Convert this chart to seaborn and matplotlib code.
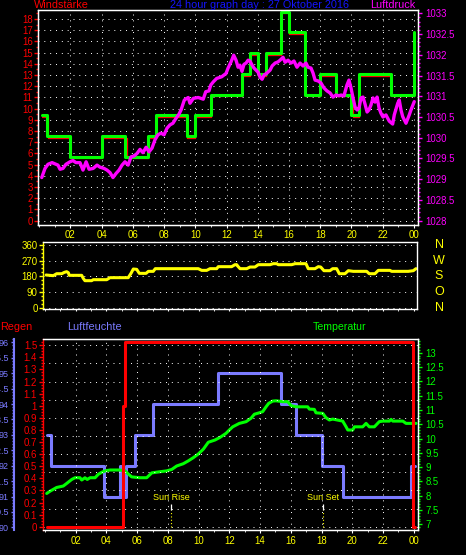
import matplotlib
matplotlib.use('Agg')
import matplotlib.pyplot as plt
import matplotlib.transforms as mtransforms
from matplotlib.ticker import MultipleLocator, FixedLocator
import numpy as np
import seaborn as sns

# ---------------- data ----------------
hour_ticks = [2, 4, 6, 8, 10, 12, 14, 16, 18, 20, 22, 24]
hour_labels = ['02', '04', '06', '08', '10', '12', '14', '16', '18', '20', '22', '00']

# wind (km/h) step series and gust
wind_t = [0.17, 0.5, 2.0, 4.0, 5.5, 7.0, 7.5, 9.5, 10.0, 11.0, 13.0, 13.5, 14.0,
          14.5, 15.5, 16.0, 17.0, 18.0, 19.0, 20.0, 20.5, 22.5, 24.0]
wind_v = [9.26, 7.41, 5.56, 7.41, 5.56, 7.41, 9.26, 7.41, 9.26, 11.11, 12.96, 14.82, 12.96,
          14.82, 18.52, 16.67, 11.11, 12.96, 11.11, 9.26, 12.96, 11.11, 16.67]
gust_t = [0.17, 0.6, 2.0, 4.0, 5.6, 7.0, 7.5, 9.5, 10.0, 11.0, 13.0, 13.5, 14.0,
          14.5, 15.5, 16.0, 17.0, 18.0, 19.0, 20.08, 20.5, 22.5, 24.0]
gust_v = wind_v

# pressure (hPa)
press_t = [0.17, 0.38, 0.57, 0.83, 1.02, 1.21, 1.34, 1.53, 1.72, 1.98,
           2.17, 2.36, 2.62, 2.81, 3.01, 3.20, 3.46, 3.71, 3.90, 4.16,
           4.35, 4.54, 4.73, 4.93, 5.12, 5.31, 5.50, 5.70, 5.89, 6.08,
           6.27, 6.46, 6.65, 6.85, 7.04, 7.23, 7.42, 7.61, 7.80, 8.00,
           8.19, 8.38, 8.57, 8.77, 8.96, 9.09,
           9.30, 9.55, 9.66, 9.88, 10.19, 10.51, 10.67, 10.88, 10.99, 11.16, 11.37, 11.69, 11.97,
           12.10, 12.29, 12.46, 12.61, 12.74, 12.86, 12.99, 13.12, 13.25, 13.38,
           13.50, 13.64, 13.76, 13.89, 14.02, 14.15, 14.28, 14.40, 14.59, 14.79,
           14.92, 15.11, 15.30, 15.43, 15.62, 15.75, 15.94, 16.13, 16.32, 16.51,
           16.71, 16.90, 17.09, 17.22, 17.41, 17.54, 17.67, 17.86, 18.05, 18.24,
           18.43, 18.63, 18.82, 19.01, 19.20, 19.33, 19.52, 19.71, 19.84, 19.97,
           20.10, 20.23, 20.36, 20.48, 20.61, 20.74, 20.87, 21.00, 21.12, 21.25,
           21.38, 21.51, 21.64, 21.77, 21.89, 22.02,
           22.21, 22.42, 22.64, 22.74, 22.96, 23.06, 23.17, 23.28, 23.49, 23.70, 23.81, 24.02]
press_v = [1029.04, 1029.26, 1029.36, 1029.40, 1029.37, 1029.34, 1029.24, 1029.26, 1029.36, 1029.42,
           1029.45, 1029.40, 1029.40, 1029.22, 1029.42, 1029.24, 1029.26, 1029.34, 1029.29, 1029.26,
           1029.22, 1029.16, 1029.04, 1029.14, 1029.22, 1029.34, 1029.42, 1029.34, 1029.54, 1029.56,
           1029.62, 1029.72, 1029.64, 1029.77, 1029.66, 1029.75, 1029.95, 1030.07, 1030.11, 1030.07,
           1030.23, 1030.31, 1030.35, 1030.47, 1030.57, 1030.67,
           1030.91, 1030.97, 1030.83, 1030.95, 1030.97, 1030.93, 1031.11, 1031.13, 1031.27, 1031.35,
           1031.43, 1031.47, 1031.55,
           1031.68, 1031.83, 1031.99, 1031.87, 1031.70, 1031.75, 1031.60, 1031.77, 1031.80, 1031.87,
           1031.85, 1031.75, 1031.68, 1031.63, 1031.58, 1031.46, 1031.41, 1031.51, 1031.56, 1031.63,
           1031.73, 1031.80, 1031.83, 1031.87, 1031.94, 1031.82, 1031.87, 1031.80, 1031.85, 1031.70,
           1031.80, 1031.73, 1031.80, 1031.70, 1031.68, 1031.56, 1031.39, 1031.37, 1031.32, 1031.20,
           1031.13, 1031.08, 1030.98, 1031.03, 1031.01, 1031.03, 1031.01, 1031.27, 1031.39, 1031.20,
           1030.96, 1030.74, 1030.67, 1030.71, 1030.96, 1030.98, 1030.81, 1030.62, 1030.67, 1030.79,
           1030.96, 1030.86, 1030.98, 1030.71, 1030.59, 1030.50,
           1030.55, 1030.40, 1030.33, 1030.55, 1030.83, 1030.91, 1030.67, 1030.51, 1030.35, 1030.55,
           1030.67, 1030.87]

# wind direction (degrees)
dir_t = [0.07, 0.54, 0.76, 1.09, 1.26, 1.41, 1.52, 1.58, 1.84, 2.39,
         2.49, 2.60, 3.04, 3.14, 4.02, 4.23, 5.42, 5.60, 5.75, 5.97,
         6.14, 6.58, 6.73, 7.05, 7.18, 9.98, 10.20, 10.53, 10.74, 11.18,
         11.28, 12.15, 12.37, 12.48, 12.58, 12.70, 13.13, 13.35, 13.67, 13.89,
         14.65, 14.86, 15.08, 15.19, 16.06, 16.28, 16.99, 17.14, 17.58, 17.79,
         17.95, 18.16, 18.55, 18.73, 18.99, 19.16, 19.53, 19.75, 20.07, 20.94,
         21.11, 21.48, 21.70, 22.46, 22.57, 23.65, 23.98, 24.15]
dir_v = [187.6, 183.8, 195, 195, 202.7, 206.5, 200.8, 185.7, 185.7, 185.7,
         168.6, 155.4, 155.4, 161, 161, 172.4, 172.4, 197, 221.7, 219.8,
         197, 197, 208.4, 208.4, 223.6, 223.6, 214, 214, 223.6, 223.6,
         235, 235, 246.3, 246.3, 235, 223.6, 223.6, 233, 233, 246.3,
         246.3, 252, 252, 246.3, 246.3, 252, 252, 223.6, 223.6, 235,
         233, 212.2, 212.2, 223.6, 223.6, 195, 195, 212.2, 208.4, 208.4,
         195, 195, 214, 214, 208.4, 208.4, 212.2, 223.6]
dir_ticks = [0, 90, 180, 270, 360]
dir_letters = ['N', 'O', 'S', 'W', 'N']

# rain (step)
rain_t = [0.11, 5.06, 5.21, 23.94, 24.11]
rain_v = [0.0, 1.0, 1.53, 0.0, 0.0]

# humidity (step)
hum_t = [0.11, 0.37, 3.86, 4.88, 4.95, 5.27, 5.86, 7.01, 11.28, 15.36, 16.34, 18.01, 19.38, 23.83, 24.11]
hum_v = [93, 92, 91, 92, 91, 92, 93, 94, 95, 94, 93, 92, 91, 92, 92]

# temperature
temp_t = [0.11, 0.33, 0.76, 1.19, 1.41, 1.74, 1.95, 2.28, 2.39, 2.60,
          2.75, 2.93, 3.26, 3.47, 3.69, 3.91, 4.23, 4.88, 5.21, 5.42,
          5.64, 6.18, 6.62, 6.95, 7.49, 7.92, 8.25, 8.57, 9.00, 9.33,
          9.65, 9.98, 10.31, 10.63, 11.07, 11.39,
          11.78, 12.00, 12.22, 12.65, 13.09, 13.41, 13.63, 13.95, 14.17, 14.39,
          14.56, 14.82, 15.04, 15.48, 15.80, 16.02, 16.34, 17.10, 17.21, 17.53,
          17.64, 18.08, 18.29, 18.51, 18.73, 19.38, 19.60, 19.71, 20.03, 20.14,
          20.68, 20.90, 21.11, 21.44, 21.76, 21.99, 22.42, 22.53, 22.64, 23.29,
          23.50, 24.15]
temp_v = [8.08, 8.16, 8.29, 8.34, 8.43, 8.57, 8.63, 8.63, 8.55, 8.63,
          8.57, 8.63, 8.63, 8.75, 8.82, 8.87, 8.90, 8.90, 8.87, 8.76,
          8.66, 8.63, 8.63, 8.80, 8.84, 8.87, 8.92, 9.04, 9.12, 9.22,
          9.33, 9.46, 9.63, 9.87, 9.95, 10.04,
          10.18, 10.30, 10.41, 10.53, 10.59, 10.71, 10.85, 10.90, 10.94, 11.11,
          11.23, 11.31, 11.32, 11.29, 11.29, 11.15, 11.11, 11.11, 11.03, 11.02,
          10.90, 10.88, 10.73, 10.65, 10.68, 10.61, 10.41, 10.30, 10.30, 10.41,
          10.41, 10.53, 10.41, 10.41, 10.59, 10.61, 10.61, 10.67, 10.61, 10.61,
          10.53, 10.53]

sunrise_h = 8.2
sunset_h = 18.12

# ---------------- style ----------------
sns.set_style('ticks')
plt.rcParams['font.family'] = ['Liberation Sans', 'DejaVu Sans']
plt.rcParams['axes.facecolor'] = 'black'
plt.rcParams['figure.facecolor'] = 'black'

RED = '#FF0000'
MAG = '#FF00FF'
GRN = '#00FF00'
YEL = '#FFFF00'
LAV = '#7B7BFF'
BLU = '#1414FF'
TICKFS = 6.9
DOT = (0, (1, 5))

W, H = 466, 555
fig = plt.figure(figsize=(W / 100, H / 100), dpi=100)


def rect(l, t, r, b):
    return [l / W, 1 - b / H, (r - l) / W, (b - t) / H]


def white_box(ax):
    ax.set_facecolor('black')
    for s in ax.spines.values():
        s.set_color('white')
        s.set_linewidth(1.0)


def fmt(v):
    s = ('%.1f' % v)
    return s[:-2] if s.endswith('.0') else s


# ================= top panel =================
ax1 = fig.add_axes(rect(38.3, 10, 418, 224.5))
white_box(ax1)
ax1.set_xlim(-0.05, 24.26)
ax1.set_ylim(-0.34, 18.81)
ax1.yaxis.set_major_locator(MultipleLocator(1))
ax1.yaxis.set_minor_locator(MultipleLocator(0.5))
ax1.xaxis.set_major_locator(FixedLocator(hour_ticks))
ax1.set_xticklabels(hour_labels)
ax1.xaxis.set_minor_locator(MultipleLocator(1))
ax1.tick_params(axis='y', which='both', colors=RED, labelsize=TICKFS, pad=1, width=1)
ax1.tick_params(axis='y', which='major', length=3)
ax1.tick_params(axis='y', which='minor', length=1.5)
ax1.tick_params(axis='x', which='both', color='white', labelcolor=YEL, labelsize=TICKFS, pad=1.5)
ax1.tick_params(axis='x', which='major', length=2.5)
ax1.tick_params(axis='x', which='minor', length=1.5)
ax1.grid(True, which='major', color='white', linestyle=DOT, linewidth=0.7)
ax1.set_axisbelow(True)

sns.lineplot(x=gust_t, y=gust_v, ax=ax1, color=RED, linewidth=0.9,
             drawstyle='steps-post', estimator=None, sort=False)
sns.lineplot(x=wind_t, y=wind_v, ax=ax1, color=GRN, linewidth=2.2,
             drawstyle='steps-post', estimator=None, sort=False)
ax1.lines[-1].set_transform(mtransforms.offset_copy(ax1.transData, fig=fig, x=0, y=1.6, units='dots'))
ax1.set_xlabel('')
ax1.set_ylabel('')

ax1r = ax1.twinx()
ax1r.set_ylim(1027.908, 1033.08)
p_ticks = list(np.arange(1028, 1033.01, 0.5))
ax1r.yaxis.set_major_locator(FixedLocator(p_ticks))
ax1r.set_yticklabels([fmt(v) for v in p_ticks])
ax1r.yaxis.set_minor_locator(MultipleLocator(0.1))
ax1r.tick_params(axis='y', which='both', colors=MAG, labelsize=TICKFS, pad=2, width=1)
ax1r.tick_params(axis='y', which='major', length=3)
ax1r.tick_params(axis='y', which='minor', length=1.5)
for s in ax1r.spines.values():
    s.set_color('white')
sns.lineplot(x=press_t, y=press_v, ax=ax1r, color=MAG, linewidth=2.4,
             estimator=None, sort=False)
ax1r.set_ylabel('')

fig.text(34 / W, 1 - 5.5 / H, 'Windstärke', color=RED, fontsize=7.8, ha='left', va='center')
fig.text(259 / W, 1 - 5.5 / H, '24 hour graph day : 27 Oktober 2016', color=BLU, fontsize=7.8,
         ha='center', va='center')
fig.text(415.5 / W, 1 - 5.5 / H, 'Luftdruck', color=MAG, fontsize=7.8, ha='right', va='center')

# ================= middle panel =================
ax2 = fig.add_axes(rect(43.3, 241.7, 416.7, 309.3))
white_box(ax2)
ax2.spines['left'].set_color(YEL)
ax2.set_xlim(-0.11, 24.2)
ax2.set_ylim(-7.4, 377)
ax2.yaxis.set_major_locator(FixedLocator(dir_ticks))
ax2.yaxis.set_minor_locator(MultipleLocator(22.5))
ax2.tick_params(axis='y', which='both', colors=YEL, labelsize=TICKFS, pad=1, width=1)
ax2.tick_params(axis='y', which='major', length=3)
ax2.tick_params(axis='y', which='minor', length=1.5)
ax2.xaxis.set_major_locator(FixedLocator(hour_ticks))
ax2.xaxis.set_minor_locator(MultipleLocator(1))
ax2.tick_params(axis='x', which='both', color='white', labelbottom=False, length=1.5)
ax2.grid(True, axis='y', which='major', color='white', linestyle=DOT, linewidth=0.7)
ax2.set_axisbelow(True)
sns.lineplot(x=dir_t, y=dir_v, ax=ax2, color=YEL, linewidth=2.2, estimator=None, sort=False)
ax2.set_xlabel('')
ax2.set_ylabel('')
tr = mtransforms.blended_transform_factory(fig.transFigure, ax2.transData)
for d, letter in zip(dir_ticks, dir_letters):
    ax2.text(439 / W, d, letter, color=YEL, fontsize=9, ha='center', va='center',
             transform=tr, clip_on=False)

# ================= bottom panel =================
ax3 = fig.add_axes(rect(42.7, 339.3, 418.3, 529.5))
white_box(ax3)
ax3.spines['left'].set_color(RED)
ax3.set_xlim(-0.15, 24.30)
ax3.set_ylim(-0.023, 1.549)
r_ticks = list(np.round(np.arange(0, 1.501, 0.1), 1))
ax3.yaxis.set_major_locator(FixedLocator(r_ticks))
ax3.set_yticklabels([fmt(v) for v in r_ticks])
ax3.yaxis.set_minor_locator(MultipleLocator(0.025))
ax3.tick_params(axis='y', which='both', colors=RED, labelsize=TICKFS, pad=1, width=1)
ax3.tick_params(axis='y', which='major', length=3)
ax3.tick_params(axis='y', which='minor', length=1.5)
ax3.xaxis.set_major_locator(FixedLocator(hour_ticks))
ax3.set_xticklabels(hour_labels)
ax3.xaxis.set_minor_locator(MultipleLocator(1))
ax3.tick_params(axis='x', which='both', color='white', labelcolor=YEL, labelsize=TICKFS, pad=2)
ax3.tick_params(axis='x', which='major', length=2.5)
ax3.tick_params(axis='x', which='minor', length=1.5)
ax3.grid(True, axis='x', which='major', color='white', linestyle=DOT, linewidth=0.7)
for g in np.arange(0, 1.51, 0.15):
    ax3.axhline(g, color='white', linestyle=DOT, linewidth=0.7, zorder=0.5)

# humidity axis (outer left)
ax3h = ax3.twinx()
ax3h.set_ylim(89.93, 96.10)
h_ticks = list(np.arange(90, 96.01, 0.5))
ax3h.yaxis.set_ticks_position('left')
ax3h.yaxis.set_label_position('left')
ax3h.spines['left'].set_position(('outward', 21))
ax3h.spines['left'].set_visible(True)
ax3h.spines['left'].set_color(LAV)
ax3h.spines['left'].set_linewidth(1.5)
ax3h.spines['right'].set_visible(False)
ax3h.spines['top'].set_visible(False)
ax3h.spines['bottom'].set_visible(False)
ax3h.yaxis.set_major_locator(FixedLocator(h_ticks))
ax3h.set_yticklabels([fmt(v) for v in h_ticks])
ax3h.yaxis.set_minor_locator(MultipleLocator(0.1))
ax3h.tick_params(axis='y', which='both', colors=LAV, labelsize=6.5, pad=1, width=1)
ax3h.tick_params(axis='y', which='major', length=2.5)
ax3h.tick_params(axis='y', which='minor', length=1.5)
sns.lineplot(x=hum_t, y=hum_v, ax=ax3h, color=LAV, linewidth=2.2,
             drawstyle='steps-post', estimator=None, sort=False)
ax3h.set_ylabel('')

# temperature axis (right)
ax3t = ax3.twinx()
ax3t.set_ylim(6.82, 13.47)
t_ticks = list(np.arange(7, 13.51, 0.5))
ax3t.yaxis.set_major_locator(FixedLocator(t_ticks))
ax3t.set_yticklabels([fmt(v) for v in t_ticks])
ax3t.yaxis.set_minor_locator(MultipleLocator(0.1))
ax3t.tick_params(axis='y', which='both', colors=GRN, labelsize=TICKFS, pad=2, width=1)
ax3t.tick_params(axis='y', which='major', length=3)
ax3t.tick_params(axis='y', which='minor', length=1.5)
for s in ax3t.spines.values():
    s.set_color('white')
ax3t.spines['left'].set_visible(False)
sns.lineplot(x=temp_t, y=temp_v, ax=ax3t, color=GRN, linewidth=2.2, estimator=None, sort=False)
ax3t.set_ylabel('')

# rain on top
sns.lineplot(x=rain_t, y=rain_v, ax=ax3, color=RED, linewidth=2.2,
             drawstyle='steps-post', estimator=None, sort=False)
ax3.set_xlabel('')
ax3.set_ylabel('')

ax3h.set_zorder(1)
ax3t.set_zorder(2)
ax3.set_zorder(3)
for a in (ax3, ax3h, ax3t):
    a.patch.set_visible(False)

# sun rise / set markers
for h, lab in ((sunrise_h, 'Sun Rise'), (sunset_h, 'Sun Set')):
    ax3.vlines(h, 0, 0.138, color=YEL, linestyle=(0, (1, 2)), linewidth=0.8)
    ax3.vlines(h, 0.138, 0.19, color='white', linewidth=0.9)
    ax3.text(h, 0.24, lab, color=YEL, fontsize=6.5, ha='center', va='center')

fig.text(0 / W, 1 - 327.5 / H, 'Regen', color=RED, fontsize=7.8, ha='left', va='center')
fig.text(66.7 / W, 1 - 327.5 / H, 'Luftfeuchte', color=LAV, fontsize=7.8, ha='left', va='center')
fig.text(339.7 / W, 1 - 327.5 / H, 'Temperatur', color=GRN, fontsize=7.6, ha='center', va='center')

fig.savefig('out.png', dpi=100, facecolor='black')
